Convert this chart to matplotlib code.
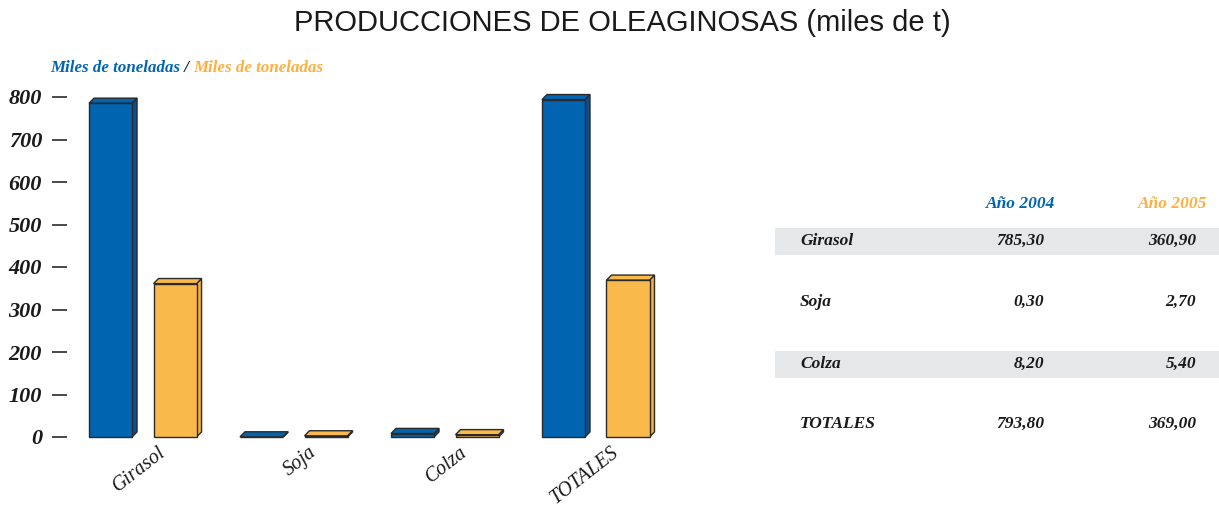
import numpy as np
import matplotlib.pyplot as plt
from matplotlib.patches import Rectangle, Polygon

categorias = ["Girasol", "Soja", "Colza", "TOTALES"]
anio_2004 = [785.30, 0.30, 8.20, 793.80]
anio_2005 = [360.90, 2.70, 5.40, 369.00]
yticks = [0, 100, 200, 300, 400, 500, 600, 700, 800]

azul = "#0064b0"
azul_lado = "#0a4f92"
naranja = "#fab94b"
naranja_lado = "#f4b040"
borde = "#2a2a2a"
serif = "Liberation Serif"

fig = plt.figure(figsize=(12.19, 5.07), dpi=100)
ax = fig.add_axes([67/1219, 70/507, (680-67)/1219, 340/507])
ax.set_xlim(-0.502, 3.558)
ax.set_ylim(0, 800)
for s in ax.spines.values():
    s.set_visible(False)
ax.set_xticks([])
ax.set_yticks(yticks)
ax.tick_params(axis="y", direction="out", length=11, width=1.2, color=borde, pad=7, labelsize=16)
for lbl in ax.get_yticklabels():
    lbl.set_family(serif)
    lbl.set_fontstyle("italic")
    lbl.set_fontweight("bold")
    lbl.set_color("#1a1a1a")

w, dx, dy = 0.285, 0.033, 12

def barra3d(x0, h, color, lado):
    front = Rectangle((x0, 0), w, h, facecolor=color, edgecolor=borde, lw=1, clip_on=False, zorder=3)
    top = Polygon([(x0, h), (x0+dx, h+dy), (x0+w+dx, h+dy), (x0+w, h)], closed=True,
                  facecolor=color, edgecolor=borde, lw=1, clip_on=False, zorder=2)
    side = Polygon([(x0+w, 0), (x0+w+dx, dy), (x0+w+dx, h+dy), (x0+w, h)], closed=True,
                   facecolor=lado, edgecolor=borde, lw=1, clip_on=False, zorder=2)
    for p in (side, top, front):
        ax.add_patch(p)

off = 0.2136
for i, cat in enumerate(categorias):
    barra3d(i - off - w/2, anio_2004[i], azul, azul_lado)
    barra3d(i + off - w/2, anio_2005[i], naranja, naranja_lado)
    ax.text(i + 0.1, -14, cat, rotation=38, rotation_mode="anchor", ha="right", va="top",
            family=serif, fontstyle="italic", fontsize=14.5, color="#1a1a1a")

# overlay in pixel coords for title and table
ov = fig.add_axes([0, 0, 1, 1])
ov.set_xlim(0, 1219)
ov.set_ylim(507, 0)
ov.axis("off")
ov.patch.set_visible(False)

ov.text(622, 23, "PRODUCCIONES DE OLEAGINOSAS (miles de t)", ha="center", va="center",
        family="Liberation Sans", fontsize=21, color="#1a1a1a")

fnt = dict(family=serif, fontstyle="italic", fontweight="bold")
t1 = ov.text(50, 72, "Miles de toneladas", color=azul, fontsize=12.2, va="baseline", **fnt)
t2 = ov.annotate(" / ", xy=(1, 0), xycoords=t1, va="bottom", color="#1a1a1a", fontsize=12.2, **fnt)
t3 = ov.annotate("Miles de toneladas", xy=(1, 0), xycoords=t2, va="bottom", color="#fbb040", fontsize=12.2, **fnt)

# table
ov.text(1055, 204, "Año 2004", ha="right", va="center", color=azul, fontsize=12.5, **fnt)
ov.text(1207, 204, "Año 2005", ha="right", va="center", color="#fbb040", fontsize=12.5, **fnt)
filas_y = [241, 302, 364, 424]
for i, cat in enumerate(categorias):
    y = filas_y[i]
    if i % 2 == 0 and cat != "TOTALES":
        ov.add_patch(Rectangle((775, y - 13.5), 444, 27, facecolor="#e6e7e9", edgecolor="none", zorder=0))
    ov.text(800, y, cat, ha="left", va="center", color="#1a1a1a", fontsize=12.5, **fnt)
    ov.text(1044, y, f"{anio_2004[i]:.2f}".replace(".", ","), ha="right", va="center",
            color="#1a1a1a", fontsize=12.5, **fnt)
    ov.text(1196, y, f"{anio_2005[i]:.2f}".replace(".", ","), ha="right", va="center",
            color="#1a1a1a", fontsize=12.5, **fnt)

fig.savefig("out.png", dpi=100)
